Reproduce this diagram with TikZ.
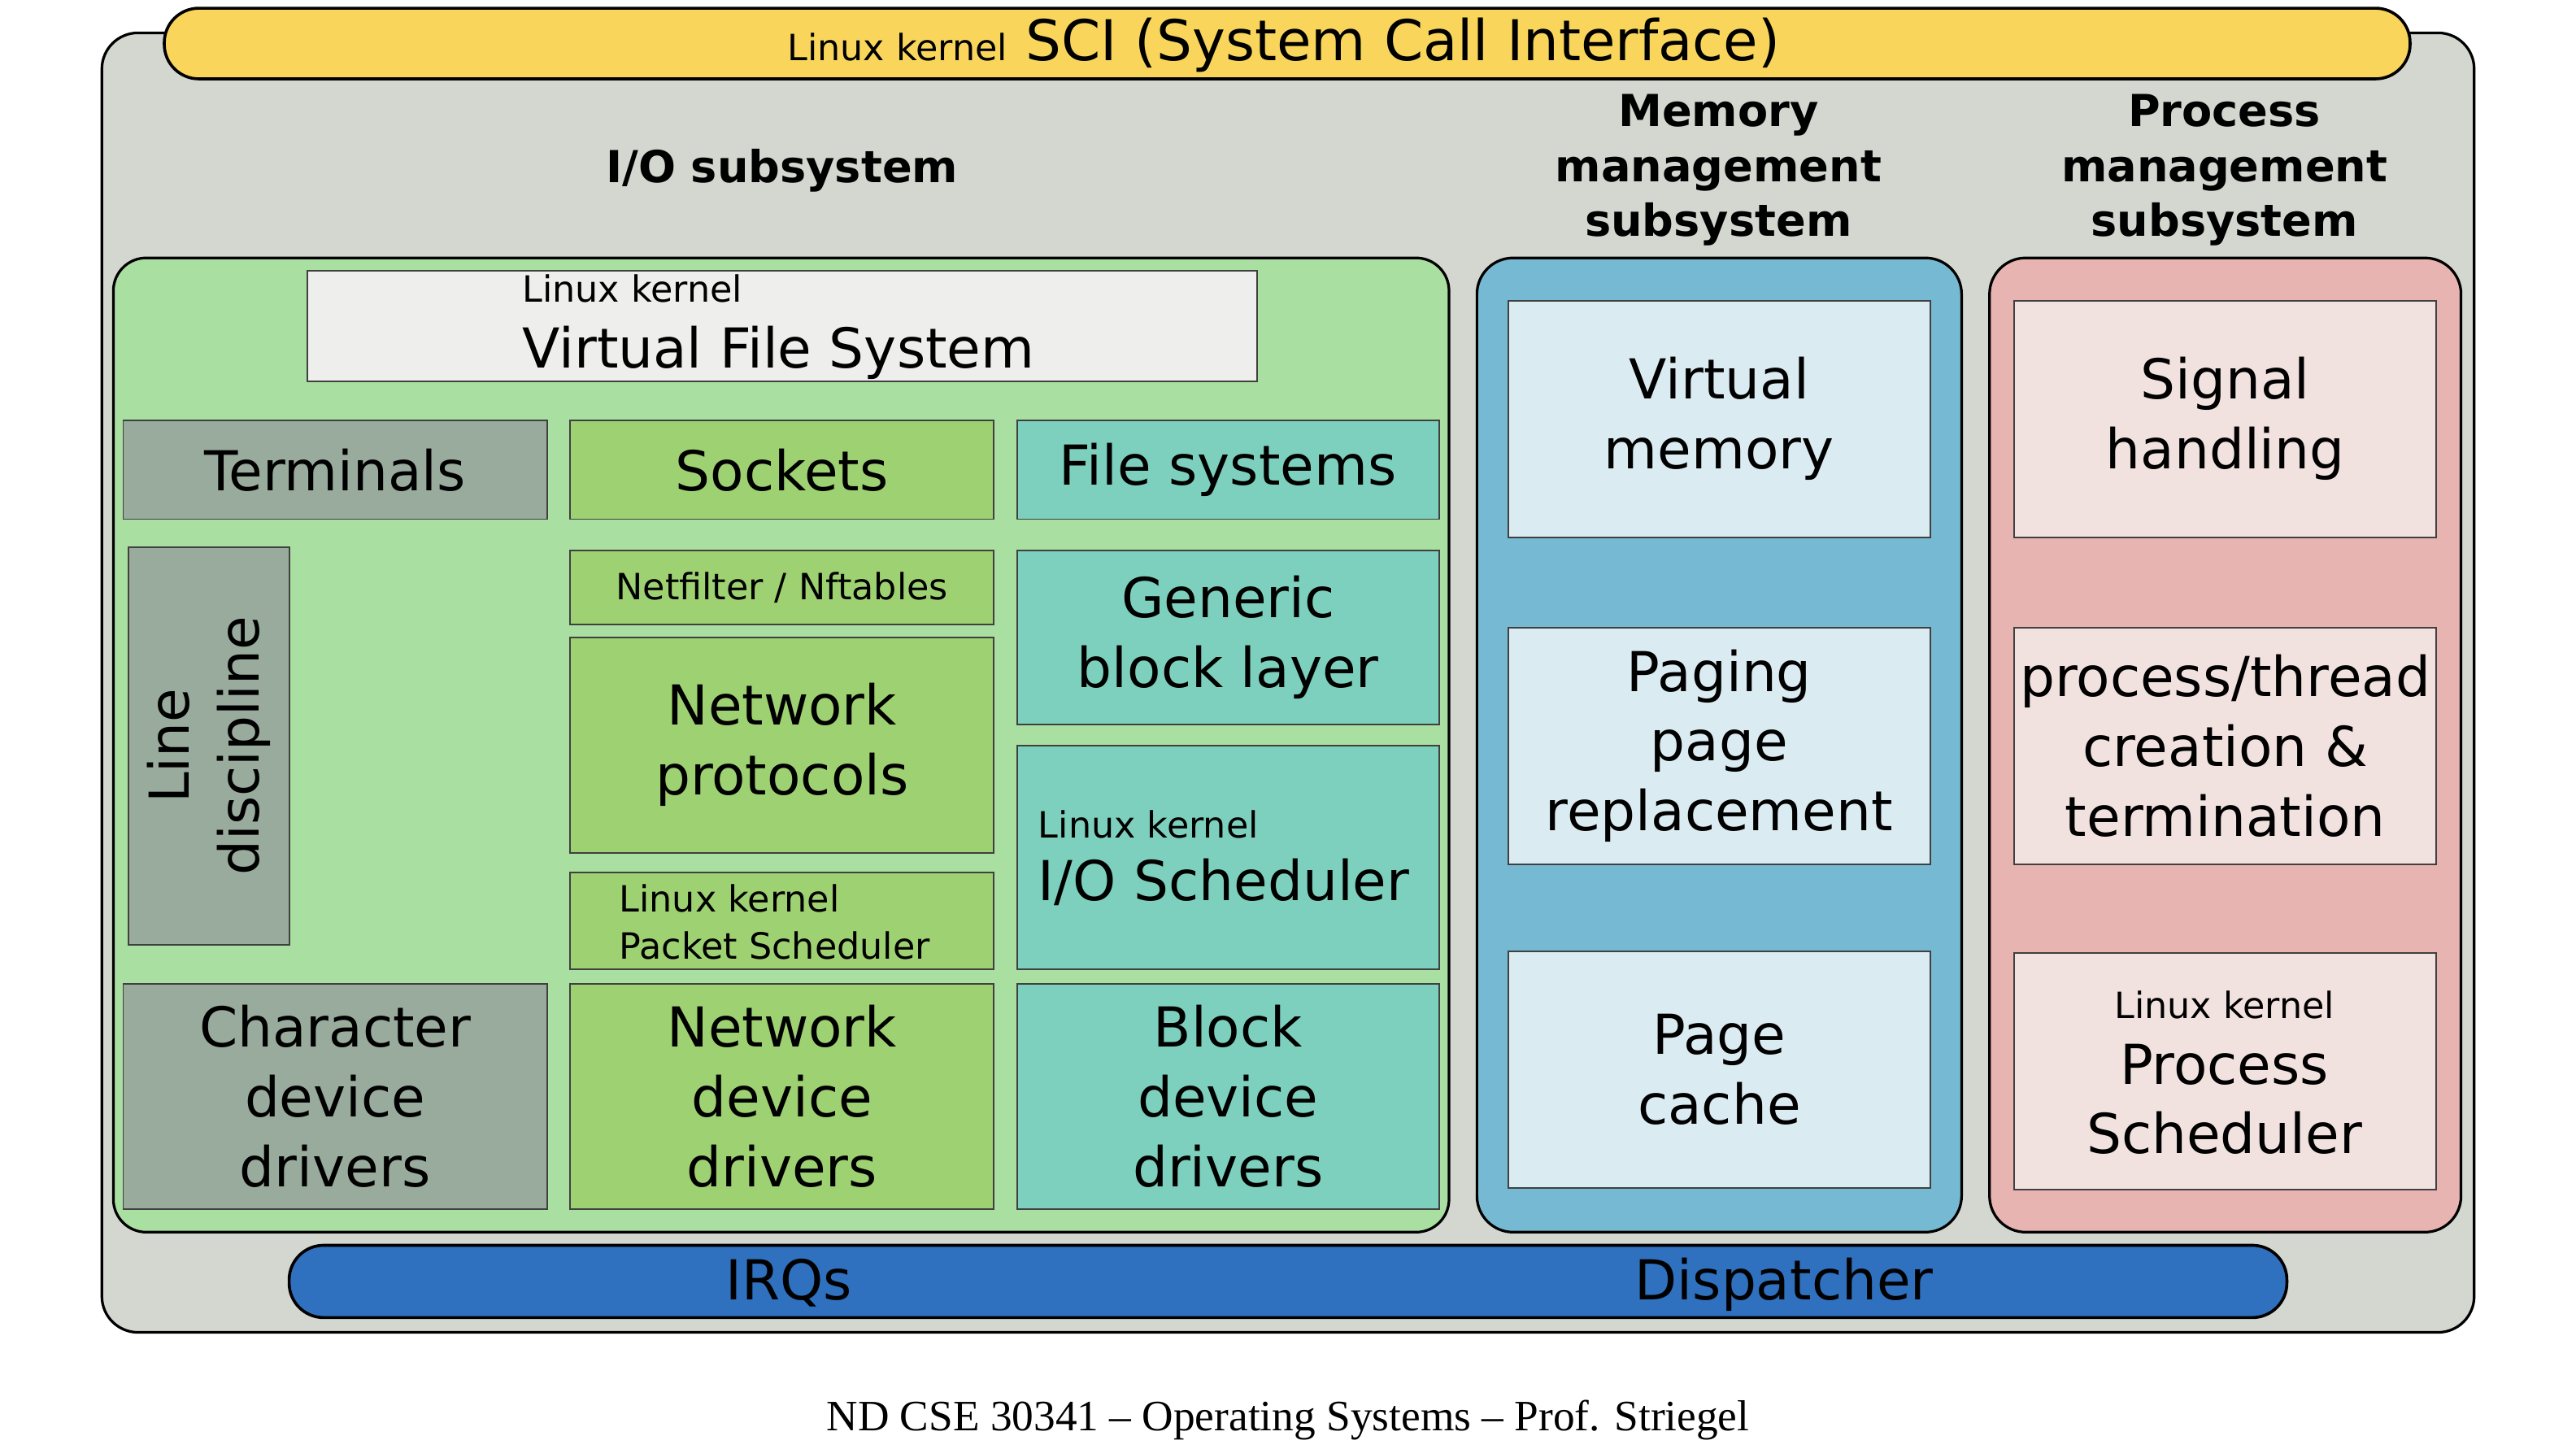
\documentclass[tikz,border=0pt]{standalone}
\usepackage{fontspec}
\setmainfont{DejaVu Sans}
\newfontfamily\footserif{Liberation Serif}
\definecolor{cgray}{HTML}{D3D7CF}
\definecolor{cyellow}{HTML}{F9D65B}
\definecolor{cgreen}{HTML}{A9DFA0}
\definecolor{cgrayg}{HTML}{98AB9C}
\definecolor{cgreentwo}{HTML}{9ED171}
\definecolor{cteal}{HTML}{7DD0BD}
\definecolor{cblue}{HTML}{76B9D2}
\definecolor{clblue}{HTML}{DBEBF2}
\definecolor{cpink}{HTML}{E8B4B1}
\definecolor{clpink}{HTML}{F2E2DF}
\definecolor{cvfs}{HTML}{EEEEEC}
\definecolor{cdblue}{HTML}{2F70BF}
\newcommand\bigtxt{\fontsize{16.75}{21.25}\selectfont}
\newcommand\smtxt{\fontsize{11}{14}\selectfont}
\newcommand\scitxt{\fontsize{17.1}{21}\selectfont}
\newcommand\titletxt{\fontsize{13.4}{16.75}\selectfont\bfseries}
\newcommand\foottxt{\footserif\fontsize{13.2}{16}\selectfont}
\newcommand\bxn[7]{%
  \pgfmathsetmacro\bxcx{(#2+#4)/2}%
  \pgfmathsetmacro\bxcy{(#3+#5)/2}%
  \pgfmathsetmacro\bxw{(#4-#2)/2}%
  \pgfmathsetmacro\bxh{(#5-#3)/2}%
  \node[#6, minimum width=\bxw pt, minimum height=\bxh pt] (#1) at (\bxcx,\bxcy) {#7};%
}
\tikzset{
  cont/.style={draw=black, line width=0.8pt, rounded corners=10pt, inner sep=0pt, outer sep=0pt},
  bar/.style={draw=black, line width=0.9pt, rounded corners=10.5pt, inner sep=0pt, outer sep=0pt},
  inbox/.style={draw=black!75, line width=0.45pt, inner sep=0pt, outer sep=0pt, align=center, font=\bigtxt},
  lbl/.style={inner sep=0pt, outer sep=0pt},
  titl/.style={inner sep=0pt, outer sep=0pt, align=center, font=\titletxt},
}
\begin{document}
\begin{tikzpicture}[x=0.5pt,y=-0.5pt]
\useasboundingbox (0,0) rectangle (1568,882);
\fill[white] (0,0) rectangle (1568,882);
% outer frame and SCI bar
\bxn{outer}{62}{20}{1506}{811}{cont, fill=cgray, rounded corners=11pt}{}
\bxn{sci}{100}{5}{1467}{48}{bar, fill=cyellow}{}
\node[lbl, anchor=base, font=\scitxt] (scit) at (781.5,37) {{\smtxt Linux kernel} SCI (System Call Interface)};
% titles
\node[titl, anchor=base] (iot) at (476,111) {I/O subsystem};
\node[titl] (memt) at (1046,103.5) {Memory\\management\\subsystem};
\node[titl] (proct) at (1354,103.5) {Process\\management\\subsystem};
% containers
\bxn{io}{69}{157}{882}{750}{cont, fill=cgreen}{}
\bxn{mem}{899}{157}{1194}{750}{cont, fill=cblue, rounded corners=11pt}{}
\bxn{proc}{1211}{157}{1498}{750}{cont, fill=cpink, rounded corners=11pt}{}
% VFS
\bxn{vfs}{187}{165}{765}{232}{inbox, fill=cvfs}{}
\node[lbl, anchor=base west, font=\smtxt] (vfsa) at (318,184) {Linux kernel};
\node[lbl, anchor=base west, font=\bigtxt] (vfsb) at (318,224) {Virtual File System};
% left column
\bxn{term}{75}{256}{333}{316}{inbox, fill=cgrayg}{Terminals}
\node[inbox, fill=cgrayg, rotate=90, minimum width=121pt, minimum height=49pt] (ld) at (127,454) {Line\\discipline};
\bxn{chr}{75}{599}{333}{736}{inbox, fill=cgrayg}{Character\\device\\drivers}
% middle column
\bxn{sock}{347}{256}{605}{316}{inbox, fill=cgreentwo}{Sockets}
\bxn{nf}{347}{335}{605}{380}{inbox, fill=cgreentwo, font=\smtxt}{Netfilter / Nftables}
\bxn{np}{347}{388}{605}{519}{inbox, fill=cgreentwo}{Network\\protocols}
\bxn{ps}{347}{531}{605}{590}{inbox, fill=cgreentwo}{}
\node[lbl, anchor=base west, font=\smtxt] (psa) at (377,555) {Linux kernel};
\node[lbl, anchor=base west, font=\smtxt] (psb) at (377,584) {Packet Scheduler};
\bxn{ndd}{347}{599}{605}{736}{inbox, fill=cgreentwo}{Network\\device\\drivers}
% right column
\bxn{fs}{619}{256}{876}{316}{inbox, fill=cteal}{File systems}
\bxn{gbl}{619}{335}{876}{441}{inbox, fill=cteal}{Generic\\block layer}
\bxn{ios}{619}{454}{876}{590}{inbox, fill=cteal}{}
\node[lbl, anchor=base west, font=\smtxt] (iosa) at (632,510) {Linux kernel};
\node[lbl, anchor=base west, font=\bigtxt] (iosb) at (632,548) {I/O Scheduler};
\bxn{bdd}{619}{599}{876}{736}{inbox, fill=cteal}{Block\\device\\drivers}
% memory
\bxn{vm}{918}{183}{1175}{327}{inbox, fill=clblue}{Virtual\\memory}
\bxn{pg}{918}{382}{1175}{526}{inbox, fill=clblue}{Paging\\page\\replacement}
\bxn{pc}{918}{579}{1175}{723}{inbox, fill=clblue}{Page\\cache}
% process
\bxn{sig}{1226}{183}{1483}{327}{inbox, fill=clpink}{Signal\\handling}
\bxn{ptc}{1226}{382}{1483}{526}{inbox, fill=clpink}{process/thread\\creation \&\\termination}
\bxn{psch}{1226}{580}{1483}{724}{inbox, fill=clpink}{}
\node[lbl, anchor=base, font=\smtxt] (pscha) at (1354,620) {Linux kernel};
\node[lbl, anchor=base, font=\bigtxt] (pschb) at (1354,660) {Process};
\node[lbl, anchor=base, font=\bigtxt] (pschc) at (1354,702) {Scheduler};
% bottom bar
\bxn{irq}{176}{758}{1392}{802}{bar, fill=cdblue}{}
\node[lbl, anchor=base, font=\bigtxt] (irqt) at (480,791) {IRQs};
\node[lbl, anchor=base, font=\bigtxt] (dist) at (1086,791) {Dispatcher};
% footer
\node[lbl, anchor=base, font=\foottxt] (foot) at (784,871) {ND CSE 30341 \textendash{} Operating Systems \textendash{} Prof. Striegel};
\end{tikzpicture}
\end{document}
